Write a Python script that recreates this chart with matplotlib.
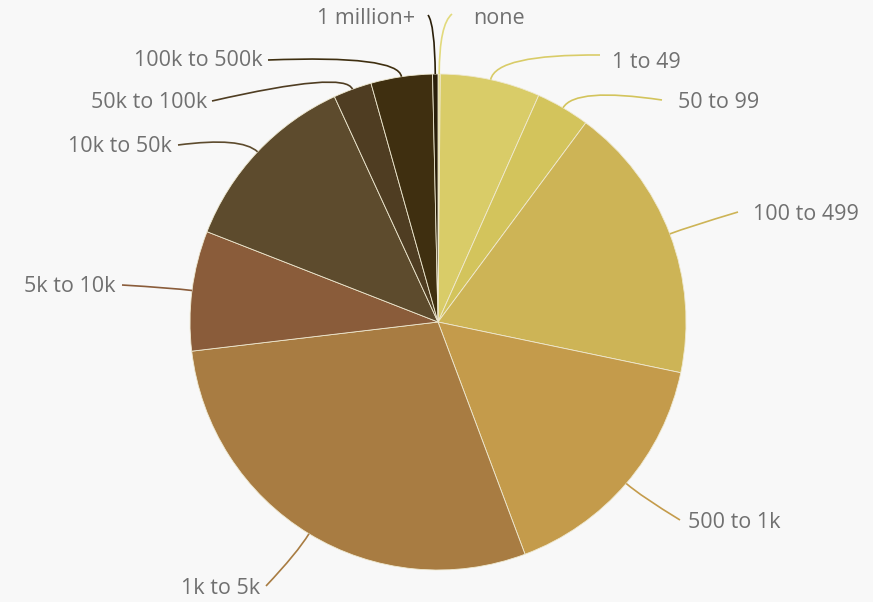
import numpy as np
import matplotlib
matplotlib.use("Agg")
import matplotlib.pyplot as plt
from matplotlib.path import Path
from matplotlib.patches import PathPatch

# share of each bucket (percent)
labels = ["none", "1 to 49", "50 to 99", "100 to 499", "500 to 1k", "1k to 5k",
          "5k to 10k", "10k to 50k", "50k to 100k", "100k to 500k", "1 million+"]
values = [0.15, 6.5, 3.5, 18.1, 16.0, 28.8, 7.8, 12.2, 2.5, 4.0, 0.35]
colors = ["#e2da7c", "#d9cc68", "#d3c45c", "#cdb456", "#c49b4b", "#a87c42",
          "#8a5c3a", "#5d4b2d", "#4f3d22", "#3f2f10", "#2a1f0a"]

# layout in pixels (y measured from top of the image)
W, H = 873, 602
cx, cy, R = 438, 322, 248
text_pos = [(473, 18, "left"), (612, 62, "left"), (678, 103, "left"), (753, 215, "left"),
            (688, 523, "left"), (260, 588, "right"), (115, 286, "right"), (172, 146, "right"),
            (207, 103, "right"), (263, 61, "right"), (415, 18, "right")]
line_end = [(452, 14), (600, 55), (662, 100), (738, 212), (680, 520), (266, 586),
            (122, 285), (178, 145), (212, 101), (268, 60), (428, 15)]
ctrl_off = [50, 26, 24, 20, 20, 22, 20, 22, 20, 22, 50]

fig = plt.figure(figsize=(W / 100, H / 100), dpi=100)
fig.patch.set_facecolor("#f8f8f8")
ax = fig.add_axes([0, 0, 1, 1])

wedges, _ = ax.pie(values, colors=colors, startangle=90, counterclock=False,
                   center=(cx, H - cy), radius=R, frame=True,
                   wedgeprops=dict(edgecolor="#efe9d0", linewidth=0.6))
ax.set_xlim(0, W)
ax.set_ylim(0, H)
ax.set_aspect("equal")
ax.axis("off")

for i, w in enumerate(wedges):
    mid = np.radians((w.theta1 + w.theta2) / 2)
    d = np.array([np.cos(mid), np.sin(mid)])
    c = np.array([cx, H - cy])
    p0 = c + R * d
    p1 = c + (R + ctrl_off[i]) * d
    p2 = (line_end[i][0], H - line_end[i][1])
    path = Path([p0, p1, p2], [Path.MOVETO, Path.CURVE3, Path.CURVE3])
    ax.add_patch(PathPatch(path, facecolor="none", edgecolor=colors[i], lw=1.2))
    tx, ty, ha = text_pos[i]
    ax.text(tx, H - ty, labels[i], ha=ha, va="center", fontsize=15.5,
            family="Open Sans", color="#707070")

fig.savefig("out.png", dpi=100, facecolor=fig.get_facecolor())
